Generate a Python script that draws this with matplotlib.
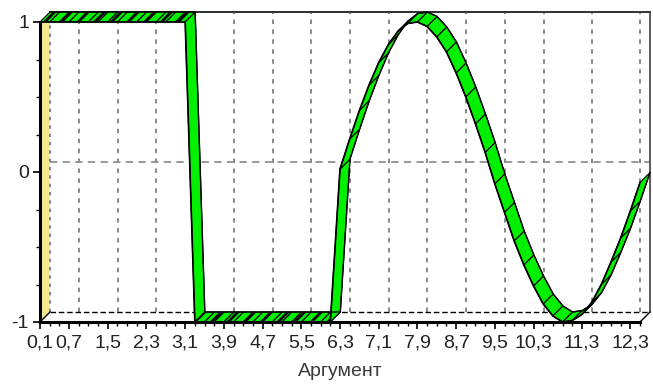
import matplotlib.pyplot as plt
from matplotlib.patches import Polygon
import numpy as np

plt.rcParams['font.family'] = ['Liberation Sans', 'DejaVu Sans']
plt.rcParams['hatch.linewidth'] = 2.0

# argument values (step 0.2) and function values
x_step = [0.1, 0.3, 0.5, 0.7, 0.9, 1.1, 1.3, 1.5, 1.7, 1.9, 2.1, 2.3, 2.5, 2.7, 2.9, 3.1,
          3.3, 3.5, 3.7, 3.9, 4.1, 4.3, 4.5, 4.7, 4.9, 5.1, 5.3, 5.5, 5.7, 5.9, 6.1]
y_step = [1] * 16 + [-1] * 15
x_wave = [6.3, 6.5, 6.7, 6.9, 7.1, 7.3, 7.5, 7.7, 7.9, 8.1, 8.3, 8.5, 8.7, 8.9, 9.1, 9.3,
          9.5, 9.7, 9.9, 10.1, 10.3, 10.5, 10.7, 10.9, 11.1, 11.3, 11.5, 11.7, 11.9, 12.1, 12.3, 12.5]
y_wave = [0.02, 0.22, 0.41, 0.58, 0.73, 0.85, 0.94, 0.99, 1.00, 0.97, 0.90, 0.80, 0.66, 0.50, 0.32, 0.13,
          -0.08, -0.27, -0.46, -0.62, -0.76, -0.88, -0.96, -1.00, -0.99, -0.95, -0.87, -0.75, -0.60, -0.44, -0.26, -0.07]

tick_pos = [0.1, 0.7, 1.5, 2.3, 3.1, 3.9, 4.7, 5.5, 6.3, 7.1, 7.9, 8.7, 9.5, 10.3, 11.3, 12.3]
tick_text = ['0,1', '0,7', '1,5', '2,3', '3,1', '3,9', '4,7', '5,5', '6,3', '7,1',
             '7,9', '8,7', '9,5', '10,3', '11,3', '12,3']

xs = x_step + x_wave
ys = y_step + y_wave

fig = plt.figure(figsize=(6.53, 3.92), dpi=100)
ax = fig.add_axes([40 / 653, 70 / 392, 600 / 653, 300 / 392])
xmin, xmax = xs[0], xs[-1]
ax.set_xlim(xmin, xmax)
ax.set_ylim(-1, 1)

# 3D depth offset (10 px right, 10 px up) in data units
dx = 10 / 600 * (xmax - xmin)
dy = 10 / 300 * 2

for s in ax.spines.values():
    s.set_visible(False)

# left wall (yellow)
ax.add_patch(Polygon([(xmin, -1), (xmin + dx, -1 + dy), (xmin + dx, 1 + dy), (xmin, 1)],
                     closed=True, facecolor='#f7e98e', edgecolor='none', clip_on=False, zorder=1))
ax.plot([xmin + dx, xmin + dx], [-1 + dy, 1 + dy], color='#6a6aa0', ls=(0, (2, 3)), lw=1.2,
        clip_on=False, zorder=1)

# back wall grid
for t in tick_pos[1:]:
    ax.plot([t + dx, t + dx], [-1 + dy, 1 + dy], color='#808080', ls=(0, (2.5, 3)), lw=1.3,
            clip_on=False, zorder=1)
ax.plot([xmin + dx, xmax + dx], [dy, dy], color='#909090', ls=(0, (4, 3)), lw=1.3,
        clip_on=False, zorder=1)
ax.plot([xmin + dx, xmax + dx], [1 + dy, 1 + dy], color='#303030', lw=1.4,
        clip_on=False, zorder=1)
ax.plot([xmin + dx, xmax + dx], [-1 + dy, -1 + dy], color='black', ls=(0, (4, 2)), lw=1.0,
        clip_on=False, zorder=1)
ax.plot([xmax + dx, xmax + dx], [-1 + dy, 1 + dy], color='#404040', lw=1.2,
        clip_on=False, zorder=1)
ax.plot([xmax, xmax + dx], [-1, -1 + dy], color='black', lw=1.0, clip_on=False, zorder=1)
ax.plot([xmin, xmin + dx], [-1, -1 + dy], color='black', lw=1.0, clip_on=False, zorder=1)

# ribbon
for i in range(len(xs) - 1):
    x0, x1 = xs[i], xs[i + 1]
    y0, y1 = ys[i], ys[i + 1]
    flat = abs(y1 - y0) < 1e-9
    ax.add_patch(Polygon([(x0, y0), (x1, y1), (x1 + dx, y1 + dy), (x0 + dx, y0 + dy)],
                         closed=True, facecolor='#00f000', edgecolor='black',
                         hatch='//' if flat else None, lw=0.8, clip_on=False, zorder=3))
ax.plot(xs, ys, color='black', lw=1.2, clip_on=False, zorder=4)
ax.plot([x + dx for x in xs], [y + dy for y in ys], color='black', lw=1.0, clip_on=False, zorder=4)

# axes lines
ax.plot([xmin, xmin], [-1, 1], color='black', lw=2.2, clip_on=False, zorder=5)
ax.plot([xmin, xmax], [-1, -1], color='black', lw=2.2, clip_on=False, zorder=5)

ax.set_xticks(tick_pos)
ax.set_xticklabels(tick_text)
ax.set_xticks(xs, minor=True)
ax.set_yticks([-1, 0, 1])
ax.set_yticklabels(['-1', '0', '1'])
ax.set_yticks(np.arange(-1, 1.01, 0.25), minor=True)
ax.tick_params(axis='both', which='major', direction='out', length=5, width=1.2,
               labelsize=14, colors='black', pad=3)
ax.tick_params(axis='both', which='minor', direction='out', length=3, width=1.0)
ax.tick_params(axis='x', which='major', pad=4)
for lbl in ax.get_xticklabels() + ax.get_yticklabels():
    lbl.set_color('#222222')
ax.set_xlabel('Аргумент', fontsize=14, color='#3a3a3a', labelpad=8)

fig.savefig('out.png', dpi=100, facecolor='white')
